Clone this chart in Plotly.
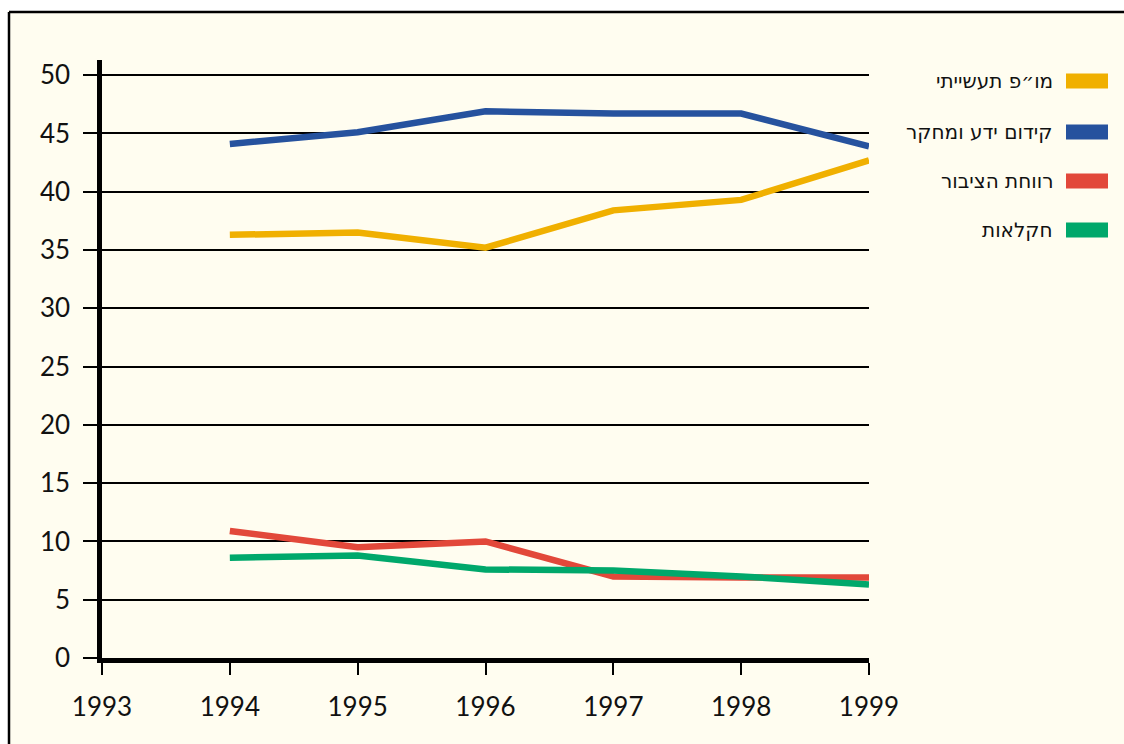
import plotly.graph_objects as go

years = [1994, 1995, 1996, 1997, 1998, 1999]
names = ["מו״פ תעשייתי", "קידום ידע ומחקר", "רווחת הציבור", "חקלאות"]
industrial_rd = [36.3, 36.5, 35.2, 38.4, 39.3, 42.7]
knowledge_research = [44.1, 45.1, 46.9, 46.7, 46.7, 43.9]
public_welfare = [10.9, 9.5, 10.0, 7.0, 6.9, 6.9]
agriculture = [8.6, 8.8, 7.6, 7.5, 7.0, 6.3]
colors = ["#F0B000", "#26529E", "#E2483A", "#00A86B"]
y_ticks = [0, 5, 10, 15, 20, 25, 30, 35, 40, 45, 50]
x_ticks = [1993, 1994, 1995, 1996, 1997, 1998, 1999]

series = [industrial_rd, knowledge_research, public_welfare, agriculture]

W, H = 1124, 744
L, R_EDGE, T, B_EDGE = 102, 869, 60, 658
PW, PH = R_EDGE - L, B_EDGE - T


def px(x):
    return (x - L) / PW


def py(y):
    return (B_EDGE - y) / PH


fig = go.Figure()
for name, vals, col in zip(names, series, colors):
    fig.add_trace(go.Scatter(x=years, y=vals, mode="lines", name=name,
                             line=dict(color=col, width=6.5), showlegend=False))

bg = "#FFFDF0"
fig.update_layout(
    width=W, height=H,
    paper_bgcolor=bg, plot_bgcolor=bg,
    margin=dict(l=L, r=W - R_EDGE, t=T, b=H - B_EDGE),
    font=dict(family="Lato, Open Sans, sans-serif", color="#111"),
    xaxis=dict(range=[1993, 1999], tickvals=x_ticks, showgrid=False,
               showline=True, linecolor="black", linewidth=5,
               ticks="outside", ticklen=12, tickwidth=1.8, tickcolor="black",
               tickfont=dict(size=26, family="Lato, Open Sans, sans-serif", color="#111"),
               ticklabelstandoff=10, zeroline=False),
    yaxis=dict(range=[0, 51.3], tickvals=y_ticks, showgrid=True,
               gridcolor="black", gridwidth=1.6,
               showline=True, linecolor="black", linewidth=4.5,
               ticks="outside", ticklen=14, tickwidth=1.6, tickcolor="black",
               tickfont=dict(size=26, family="Lato, Open Sans, sans-serif", color="#111"),
               ticklabelstandoff=8, zeroline=False),
)

# white margin outside the framed card (top and left)
fig.add_shape(type="rect", xref="paper", yref="paper",
              x0=px(-20), x1=px(1140), y0=py(11), y1=py(-20),
              line=dict(width=0), fillcolor="white", layer="below")
fig.add_shape(type="rect", xref="paper", yref="paper",
              x0=px(-20), x1=px(8), y0=py(760), y1=py(-20),
              line=dict(width=0), fillcolor="white", layer="below")

# figure border (left and top edges visible)
fig.add_shape(type="line", xref="paper", yref="paper",
              x0=px(9), x1=px(9), y0=py(760), y1=py(12),
              line=dict(color="black", width=2.5), layer="below")
fig.add_shape(type="line", xref="paper", yref="paper",
              x0=px(9), x1=px(1140), y0=py(12), y1=py(12),
              line=dict(color="black", width=2.5), layer="below")

# manual legend (swatch right of text, RTL style)
legend_y = [81, 132, 181, 230]
for name, col, ly in zip(names, colors, legend_y):
    fig.add_shape(type="rect", xref="paper", yref="paper",
                  x0=px(1066), x1=px(1108),
                  y0=py(ly + 7.5), y1=py(ly - 7.5),
                  line=dict(width=0), fillcolor=col)
    fig.add_annotation(xref="paper", yref="paper",
                       x=px(1055), y=py(ly), text=name,
                       showarrow=False, xanchor="right", yanchor="middle",
                       font=dict(size=20, family="DejaVu Sans, Noto Sans, sans-serif", color="#111"))

fig.write_html(
    "out.html",
    config={"displayModeBar": False},
    post_script=("document.body.style.margin='0';"
                 "document.body.style.background='#FFFDF0';"
                 "document.body.style.overflow='hidden';"),
)
